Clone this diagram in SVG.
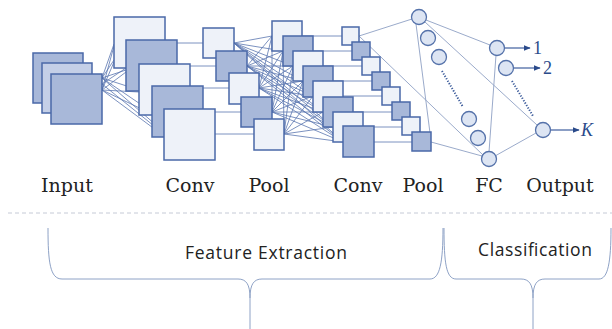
<svg xmlns="http://www.w3.org/2000/svg" width="612" height="329" viewBox="0 0 612 329">
<defs>
<style>
.l{fill:#eef2f9;stroke:#4a68a8;stroke-width:1.5}
.d{fill:#a8b8d9;stroke:#4a68a8;stroke-width:1.5}
.m{fill:#c4cfe7;stroke:#4a68a8;stroke-width:1.5}
.c{fill:#dde5f3;stroke:#5572aa;stroke-width:1.3}
.w{stroke:#5a76b0;stroke-width:0.8;fill:none}
.f{stroke:#8fa0c4;stroke-width:0.9;fill:none}
.dot{stroke:#3a5a9a;stroke-width:2;stroke-dasharray:1.2 1.6;fill:none}
.ar{stroke:#3f5e9e;stroke-width:1.2;fill:none;marker-end:url(#ah)}
.lab{font-family:"DejaVu Serif",serif;font-size:19px;fill:#222;text-anchor:middle}
.num{font-family:"Liberation Serif",serif;font-size:18px;fill:#2a4a8a}
.sec{font-family:"Open Sans","Liberation Sans",sans-serif;font-size:17.5px;fill:#222;text-anchor:middle}
.br{stroke:#8ea2c6;stroke-width:1;fill:none}
</style>
<marker id="ah" viewBox="0 0 10 10" refX="9" refY="5" markerWidth="7" markerHeight="7" orient="auto" markerUnits="userSpaceOnUse">
<path d="M0,1 L10,5 L0,9 z" fill="#2a4a8a"/>
</marker>
</defs>
<g id="connectors">
<path class="w" d="M102,78 L114,44 M102,78 L114,60 M102,78 L126,70 M102,78 L139,90 M102,78 L152,112 M102,78 L164,132 M102,90 L114,46 M102,90 L114,62 M102,90 L126,72 M102,90 L139,92 M102,90 L152,114 M102,90 L164,136 M102,84 L126,68 M102,84 L164,134"/>
<path class="w" d="M160,43 L203,43 M175,66 L216,66 M188,88 L229,88 M200,112 L241,112 M212,134 L254,134"/>
<path class="w" d="M234,43 L272,36 M234,43 L283,51 M234,43 L293,66 M234,43 L303,81 M234,43 L313,96 M234,43 L323,112 M234,43 L333,127 M234,43 L343,142
M247,66 L272,36 M247,66 L283,51 M247,66 L293,66 M247,66 L303,81 M247,66 L313,96 M247,66 L323,112 M247,66 L333,127 M247,66 L343,142
M259,88 L272,36 M259,88 L283,51 M259,88 L293,66 M259,88 L303,81 M259,88 L313,96 M259,88 L323,112 M259,88 L333,127 M259,88 L343,142
M272,112 L272,36 M272,112 L283,51 M272,112 L293,66 M272,112 L303,81 M272,112 L313,96 M272,112 L323,112 M272,112 L333,127 M272,112 L343,142
M284,134 L283,51 M284,134 L293,66 M284,134 L303,81 M284,134 L313,96 M284,134 L323,112 M284,134 L333,127 M284,134 L343,142"/>
<path class="w" d="M298,36 L342,36 M308,51 L352,51 M318,66 L362,66 M328,81 L372,81 M338,96 L382,96 M348,112 L392,112 M358,127 L402,127 M368,142 L412,142"/>
<path class="f" d="M359,36 L412,19 M359,36 L483,155 M430,133 L416,24 M431,142 L482,156"/>
<path class="f" d="M426,20 L490,45 M425,22 L537,125 M489,152 L496,55 M495,156 L536,133"/>
<path class="dot" d="M442,71 L463,107 M512,81 L533,116"/>
<path class="ar" d="M505,48 L530,48"/>
<path class="ar" d="M514,68 L540,68"/>
<path class="ar" d="M551,130 L579,130"/>
</g>
<g id="input">
<rect class="d" x="33" y="53" width="50" height="50"/>
<rect class="m" x="42" y="63" width="50" height="50"/>
<rect class="d" x="51" y="74" width="51" height="50"/>
</g>
<g id="conv1">
<rect class="l" x="114" y="17" width="51" height="51"/>
<rect class="d" x="126" y="40" width="51" height="51"/>
<rect class="l" x="139" y="64" width="51" height="51"/>
<rect class="d" x="152" y="86" width="51" height="51"/>
<rect class="l" x="164" y="109" width="51" height="51"/>
</g>
<g id="pool1">
<rect class="l" x="203" y="28" width="31" height="30"/>
<rect class="d" x="216" y="51" width="31" height="30"/>
<rect class="l" x="229" y="73" width="30" height="31"/>
<rect class="d" x="241" y="97" width="31" height="30"/>
<rect class="l" x="254" y="119" width="30" height="31"/>
</g>
<g id="conv2">
<rect class="l" x="272" y="21" width="30" height="30"/>
<rect class="d" x="283" y="36" width="30" height="30"/>
<rect class="l" x="293" y="51" width="30" height="30"/>
<rect class="d" x="303" y="66" width="30" height="31"/>
<rect class="l" x="313" y="81" width="30" height="31"/>
<rect class="d" x="323" y="97" width="30" height="30"/>
<rect class="l" x="333" y="112" width="30" height="30"/>
<rect class="d" x="343" y="126" width="31" height="31"/>
</g>
<g id="pool2">
<rect class="l" x="342" y="27" width="17" height="18"/>
<rect class="d" x="352" y="42" width="18" height="18"/>
<rect class="l" x="362" y="57" width="18" height="18"/>
<rect class="d" x="372" y="72" width="18" height="18"/>
<rect class="l" x="382" y="87" width="18" height="18"/>
<rect class="d" x="392" y="102" width="18" height="18"/>
<rect class="l" x="402" y="117" width="18" height="18"/>
<rect class="d" x="412" y="132" width="19" height="19"/>
</g>
<g id="fc">
<circle class="c" cx="419" cy="17" r="7.5"/>
<circle class="c" cx="428" cy="38" r="7.5"/>
<circle class="c" cx="439" cy="57" r="7.5"/>
<circle class="c" cx="469" cy="119" r="7.5"/>
<circle class="c" cx="478" cy="138" r="7.5"/>
<circle class="c" cx="489" cy="159" r="7.5"/>
</g>
<g id="output">
<circle class="c" cx="497" cy="48" r="7.5"/>
<circle class="c" cx="506" cy="68" r="7.5"/>
<circle class="c" cx="543" cy="130" r="7.5"/>
<text class="num" x="533" y="54">1</text>
<text class="num" x="543" y="74">2</text>
<text class="num" x="581" y="136" font-style="italic">K</text>
</g>
<g id="labels">
<text class="lab" x="67" y="192">Input</text>
<text class="lab" x="190" y="192">Conv</text>
<text class="lab" x="269" y="192">Pool</text>
<text class="lab" x="358" y="192">Conv</text>
<text class="lab" x="423" y="192">Pool</text>
<text class="lab" x="489" y="192">FC</text>
<text class="lab" x="560" y="192">Output</text>
</g>
<line x1="8" y1="213" x2="612" y2="213" stroke="#c5cad6" stroke-width="1" stroke-dasharray="4 3"/>
<g id="feature-extraction">
<path class="br" d="M48,228 C48,262 50,279 62,279 L238,279 C246,279 250,284 250,298 L250,329 M250,298 C250,284 254,279 262,279 L430,279 C440,279 443,262 443,228"/>
<text class="sec" x="266" y="259" textLength="162" lengthAdjust="spacing">Feature Extraction</text>
</g>
<g id="classification">
<path class="br" d="M444,228 C444,262 446,279 456,279 L521,279 C529,279 533,284 533,298 L533,329 M533,298 C533,284 537,279 545,279 L599,279 C608,279 611,262 611,228"/>
<text class="sec" x="535" y="256" textLength="114" lengthAdjust="spacing">Classification</text>
</g>
</svg>
